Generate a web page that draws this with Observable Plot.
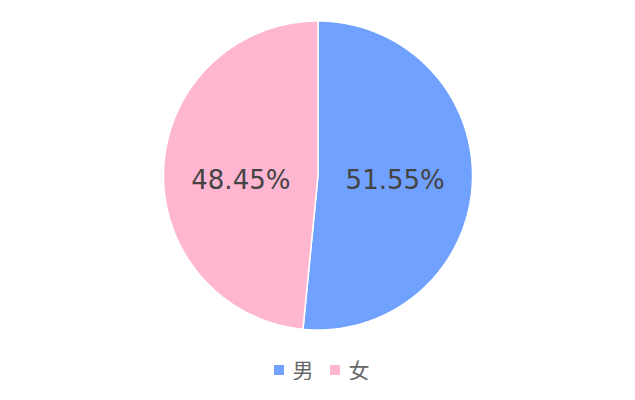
<!DOCTYPE html>
<html><head><meta charset="utf-8">
<script src="https://cdn.jsdelivr.net/npm/d3@7"></script>
<script src="https://cdn.jsdelivr.net/npm/@observablehq/plot@0.6"></script>
<style>
body{margin:0;background:#fff;font-family:"DejaVu Sans",sans-serif;}
#legend{display:flex;justify-content:center;align-items:center;margin-top:14px;padding-left:8px;font-size:21px;line-height:21px;color:#666;font-family:"Noto Sans CJK SC",sans-serif;}
.item{display:flex;align-items:center;margin:0 8px;}
.sw{width:10px;height:10px;margin-right:9px;}
</style></head>
<body><div id="chart"></div><div id="legend"></div>
<script>
const categories = ["男", "女"];
const values = [51.55, 48.45];
const colors = ["#70a1ff", "#ffb6d1"];

const data = categories.map((c, i) => ({name: c, value: values[i]}));
const arcs = d3.pie().sort(null).value(d => d.value)(data);
// polygon points along each slice (angles from the pie layout, 0 = top, clockwise)
const pts = [];
arcs.forEach(a => {
  pts.push({name: a.data.name, x: 0, y: 0});
  const n = 200;
  for (let k = 0; k <= n; k++) {
    const t = a.startAngle + (a.endAngle - a.startAngle) * k / n;
    pts.push({name: a.data.name, x: Math.sin(t), y: Math.cos(t)});
  }
});
const labels = arcs.map(a => {
  const m = (a.startAngle + a.endAngle) / 2;
  return {name: a.data.name, x: 0.5 * Math.sin(m), y: 0, text: a.data.value.toFixed(2) + "%"};
});

const W = 635, R = 154.5, cx = 317.5, cy = 175;
const chart = Plot.plot({
  width: W, height: 345,
  marginLeft: cx - R, marginRight: W - cx - R,
  marginTop: cy - R, marginBottom: 345 - cy - R,
  x: {domain: [-1, 1], axis: null},
  y: {domain: [-1, 1], axis: null},
  color: {domain: categories, range: colors},
  marks: [
    Plot.line(pts, {x: "x", y: "y", z: "name", fill: "name", stroke: "#fff", strokeWidth: 1.5, curve: "linear-closed"}),
    Plot.text(labels, {x: "x", y: "y", text: "text", fill: "#444", fontSize: 26, dy: 5, fontFamily: "DejaVu Sans, sans-serif"})
  ]
});
document.getElementById("chart").append(chart);
const lg = document.getElementById("legend");
categories.forEach((c, i) => {
  const it = document.createElement("div"); it.className = "item";
  const sw = document.createElement("span"); sw.className = "sw"; sw.style.background = colors[i];
  const tx = document.createElement("span"); tx.textContent = c;
  it.append(sw, tx); lg.append(it);
});
</script></body></html>
